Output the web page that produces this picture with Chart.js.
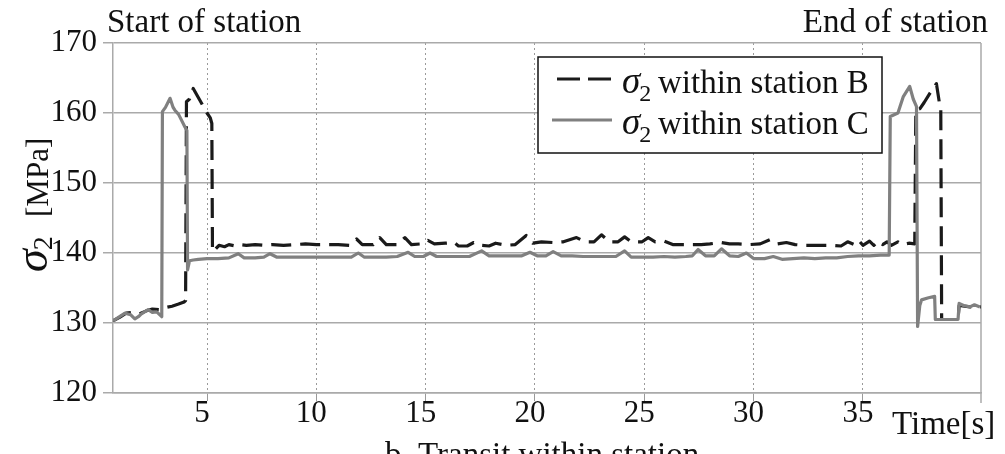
<!DOCTYPE html>
<html>
<head>
<meta charset="utf-8">
<script src="https://cdn.jsdelivr.net/npm/chart.js@4.4.0/dist/chart.umd.min.js"></script>
<style>
html, body { margin: 0; padding: 0; background: #fff; }
#wrap { width: 1005px; height: 454px; }
</style>
</head>
<body>
<div id="wrap"><canvas id="sigmaChart" width="1005" height="454"></canvas></div>
<script>
// sigma2 readings, [time s, MPa]
const stationB = [
    [0.7,130.3],[1.0,130.8],[1.3,131.4],[1.6,131.5],[1.9,131.3],[2.2,131.7],[2.5,132.0],[2.8,131.9],
    [3.1,132.2],[3.4,132.4],[3.7,132.7],[3.95,133.0],[4.02,133.2],[4.06,161.6],[4.2,162.0],[4.37,163.5],
    [4.55,162.5],[4.75,161.4],[5.0,160.0],[5.15,159.3],[5.22,158.5],[5.25,140.2],[5.4,140.6],[5.55,141.1],
    [5.8,140.9],[6.0,141.2],[6.3,141.0],[6.5,141.2],[6.8,141.1],[7.2,141.2],[7.6,141.1],[8.0,141.2],
    [8.5,141.1],[9.0,141.2],[9.5,141.3],[10.0,141.2],[10.5,141.2],[11.0,141.2],[11.5,141.1],[11.84,142.0],
    [12.1,141.2],[12.6,141.2],[12.9,142.2],[13.2,141.2],[13.7,141.2],[14.05,142.2],[14.35,141.2],[14.8,141.3],
    [15.1,141.8],[15.4,141.3],[15.9,141.4],[16.3,141.5],[16.5,141.0],[16.9,141.0],[17.2,141.5],[17.5,141.1],
    [17.9,141.0],[18.2,141.4],[18.7,141.1],[19.1,141.2],[19.6,142.5],[19.9,141.4],[20.3,141.6],[20.8,141.5],
    [21.3,141.6],[21.9,142.2],[22.3,141.6],[22.7,141.6],[23.04,142.6],[23.4,141.6],[23.8,141.6],[24.1,142.3],
    [24.4,141.6],[24.9,141.6],[25.18,142.2],[25.5,141.6],[25.9,141.7],[26.3,141.2],[26.7,141.2],[27.2,141.2],
    [27.6,141.2],[28.0,141.3],[28.5,141.5],[28.9,141.3],[29.3,141.3],[29.8,141.2],[30.3,141.3],[30.74,141.9],
    [31.1,141.3],[31.5,141.5],[31.9,141.2],[32.3,141.1],[32.8,141.1],[33.2,141.1],[33.6,141.1],[34.0,141.0],
    [34.3,141.6],[34.6,141.2],[34.8,141.8],[35.0,141.1],[35.3,141.7],[35.5,141.1],[35.7,141.7],[35.9,141.2],
    [36.1,141.6],[36.3,141.1],[36.6,141.6],[36.8,141.2],[37.1,141.4],[37.37,141.3],[37.42,160.4],[37.6,160.6],
    [37.8,161.5],[38.06,162.8],[38.36,164.2],[38.5,161.4],[38.56,160.8],[38.6,130.5],[39.35,130.5],[39.4,132.5],
    [39.9,132.3],[40.4,132.3]
];
const stationC = [
    [0.7,130.3],[1.0,130.9],[1.25,131.4],[1.5,131.2],[1.7,130.6],[1.86,130.9],[2.0,131.3],[2.31,131.9],
    [2.5,131.5],[2.7,131.6],[2.93,130.9],[2.96,160.2],[3.1,160.8],[3.31,162.1],[3.45,160.8],[3.53,160.4],
    [3.7,159.8],[3.99,158.0],[4.08,157.5],[4.11,137.6],[4.2,138.9],[4.37,139.0],[4.6,139.1],[5.0,139.2],
    [5.5,139.2],[6.0,139.3],[6.43,139.9],[6.7,139.3],[7.2,139.3],[7.6,139.4],[7.88,139.9],[8.2,139.4],
    [8.7,139.4],[9.2,139.4],[9.7,139.4],[10.2,139.4],[10.7,139.4],[11.2,139.4],[11.6,139.4],[11.92,140.0],
    [12.2,139.4],[12.7,139.4],[13.2,139.4],[13.7,139.5],[14.2,140.1],[14.5,139.5],[14.9,139.5],[15.2,140.0],
    [15.5,139.5],[16.0,139.5],[16.5,139.5],[17.0,139.5],[17.56,140.3],[17.9,139.6],[18.4,139.6],[18.9,139.6],
    [19.4,139.6],[19.77,140.1],[20.1,139.6],[20.5,139.6],[20.83,140.2],[21.2,139.6],[21.7,139.6],[22.2,139.5],
    [22.7,139.5],[23.2,139.5],[23.7,139.5],[24.1,140.3],[24.4,139.4],[24.9,139.4],[25.4,139.4],[25.9,139.5],
    [26.4,139.4],[26.9,139.5],[27.2,139.6],[27.46,140.5],[27.8,139.6],[28.2,139.6],[28.53,140.6],[28.9,139.6],
    [29.3,139.5],[29.67,140.0],[30.0,139.2],[30.5,139.2],[30.9,139.5],[31.3,139.1],[31.8,139.2],[32.3,139.3],
    [32.8,139.2],[33.3,139.3],[33.8,139.3],[34.3,139.5],[34.8,139.6],[35.3,139.6],[35.8,139.7],[36.2,139.7],
    [36.25,159.5],[36.6,160.0],[36.84,162.3],[37.14,163.8],[37.3,162.0],[37.45,160.9],[37.5,129.5],[37.6,132.5],
    [37.68,133.3],[38.0,133.6],[38.28,133.8],[38.31,130.5],[39.35,130.5],[39.4,132.8],[39.6,132.5],[39.89,132.3],
    [40.1,132.6],[40.35,132.3]
];
const seriesNames = ['within station B', 'within station C'];
const xTicks = [5, 10, 15, 20, 25, 30, 35];
const yTicks = [120, 130, 140, 150, 160, 170];
const timeRange = [0.7, 40.4];

const serif = "'Liberation Serif', 'Times New Roman', serif";

const toPoints = rows => rows.map(([t, v]) => ({ x: t, y: v }));

// text, legend box and right frame edge
const decorations = {
    id: 'decorations',
    beforeDatasetsDraw(chart) {
        const { ctx, chartArea: a } = chart;
        ctx.save();
        ctx.strokeStyle = '#aaaaaa';
        ctx.lineWidth = 1.5;
        ctx.beginPath();
        ctx.moveTo(a.right, a.top);
        ctx.lineTo(a.right, a.bottom + 10);
        ctx.stroke();
        ctx.restore();
    },
    afterDraw(chart) {
        const { ctx, chartArea: a } = chart;
        ctx.save();
        ctx.fillStyle = '#111';
        ctx.font = '33px ' + serif;
        ctx.textAlign = 'left';
        ctx.fillText('Start of station', a.left - 6, 32);
        ctx.textAlign = 'right';
        ctx.fillText('End of station', a.right + 7, 32);
        ctx.textAlign = 'left';
        ctx.fillText('Time[s]', a.right - 89, 434);
        ctx.fillText('b. Transit within station', 385, 465);

        // y title
        ctx.save();
        ctx.translate(47, 272);
        ctx.rotate(-Math.PI / 2);
        ctx.font = 'italic 46px ' + serif;
        ctx.fillText('σ', 0, 0);
        const sw = ctx.measureText('σ').width;
        ctx.font = '28px ' + serif;
        ctx.fillText('2', sw - 1, 5);
        ctx.font = '31px ' + serif;
        ctx.fillText('[MPa]', 55, 1);
        ctx.restore();

        // legend
        const box = { width: 344, height: 96 };
        box.left = a.right - 99 - box.width;
        box.top = a.top + 14;
        ctx.fillStyle = '#fff';
        ctx.fillRect(box.left, box.top, box.width, box.height);
        ctx.strokeStyle = '#111';
        ctx.lineWidth = 1.5;
        ctx.strokeRect(box.left, box.top, box.width, box.height);
        chart.data.datasets.forEach((ds, i) => {
            const ly = box.top + 22 + i * 41;
            ctx.save();
            ctx.strokeStyle = ds.borderColor;
            ctx.lineWidth = ds.borderWidth;
            ctx.setLineDash(ds.borderDash ? [23, 8] : []);
            ctx.beginPath();
            ctx.moveTo(box.left + (ds.borderDash ? 19 : 14), ly);
            ctx.lineTo(box.left + 74, ly);
            ctx.stroke();
            ctx.restore();
            ctx.fillStyle = '#111';
            const bx = box.left + 84;
            const by = ly + 14;
            ctx.font = 'italic 37px ' + serif;
            ctx.fillText('σ', bx, by);
            const gw = ctx.measureText('σ').width;
            ctx.font = '24px ' + serif;
            ctx.fillText('2', bx + gw - 1, by + 8);
            ctx.font = '33px ' + serif;
            ctx.fillText(seriesNames[i], bx + 36, by);
        });
        ctx.restore();
    }
};

new Chart(document.getElementById('sigmaChart').getContext('2d'), {
    type: 'line',
    data: {
        datasets: [{
            label: 'σ2 ' + seriesNames[0],
            data: toPoints(stationB),
            borderColor: '#1a1a1a',
            borderWidth: 3.2,
            borderDash: [20, 9],
            borderJoinStyle: 'round',
            pointRadius: 0,
            tension: 0,
            order: 1
        }, {
            label: 'σ2 ' + seriesNames[1],
            data: toPoints(stationC),
            borderColor: '#808080',
            borderWidth: 3.2,
            borderJoinStyle: 'round',
            pointRadius: 0,
            tension: 0,
            order: 0
        }]
    },
    options: {
        responsive: false,
        animation: false,
        devicePixelRatio: 1,
        layout: { padding: { top: 43, right: 24, left: 0, bottom: 0 } },
        plugins: {
            legend: { display: false },
            tooltip: { enabled: false }
        },
        scales: {
            x: {
                type: 'linear',
                min: timeRange[0],
                max: timeRange[1],
                afterBuildTicks: s => { s.ticks = xTicks.map(v => ({ value: v })); },
                afterFit: s => { s.height = 61; },
                grid: { color: '#9a9a9a', lineWidth: 1, tickLength: 8 },
                border: { display: true, color: '#aaaaaa', width: 1.5, dash: [2, 3] },
                ticks: {
                    color: '#111',
                    font: { family: serif, size: 31, lineHeight: 1 },
                    padding: -3,
                    labelOffset: -5,
                    maxRotation: 0
                }
            },
            y: {
                min: 120,
                max: 170,
                afterBuildTicks: s => { s.ticks = yTicks.map(v => ({ value: v })); },
                afterFit: s => { s.width = 113; },
                grid: { color: '#aaaaaa', lineWidth: 1.5, tickLength: 10 },
                border: { display: true, color: '#aaaaaa', width: 1.5 },
                ticks: {
                    color: '#111',
                    font: { family: serif, size: 31 },
                    padding: 6
                }
            }
        }
    },
    plugins: [decorations]
});
</script>
</body>
</html>
